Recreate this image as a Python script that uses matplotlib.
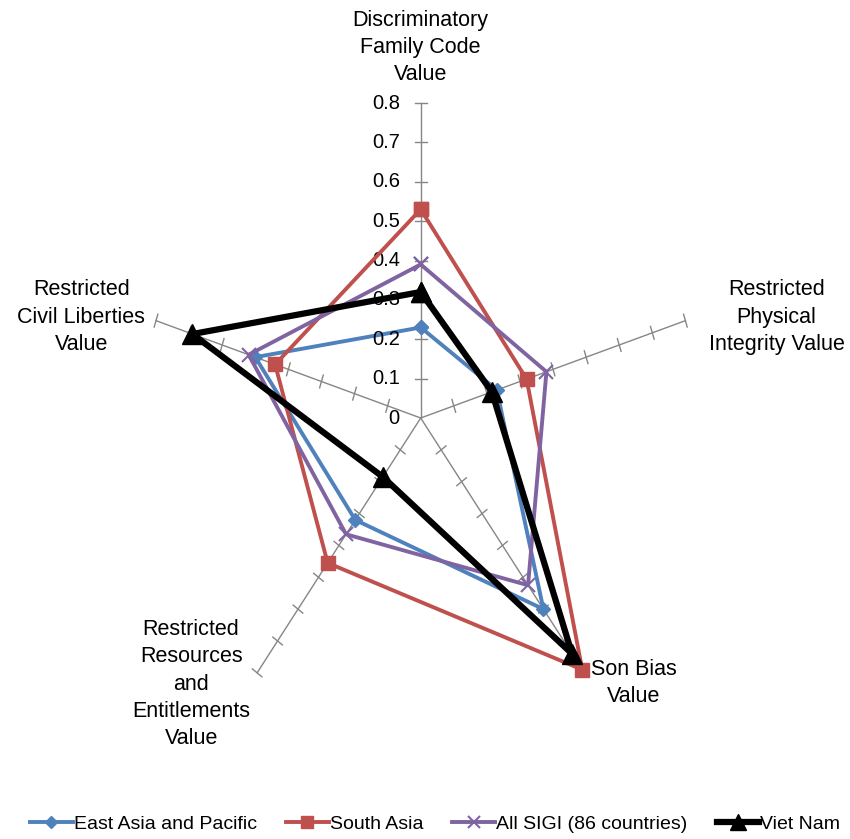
import numpy as np
import matplotlib
matplotlib.use("Agg")
import matplotlib.pyplot as plt

plt.rcParams['font.family'] = ['Liberation Sans', 'DejaVu Sans']

# axes of the radar, clockwise from the top
categories = [
    "Discriminatory\nFamily Code\nValue",
    "Restricted\nPhysical\nIntegrity Value",
    "Son Bias\nValue",
    "Restricted\nResources\nand\nEntitlements\nValue",
    "Restricted\nCivil Liberties\nValue",
]
east_asia = [0.23, 0.23, 0.60, 0.32, 0.50]
south_asia = [0.53, 0.32, 0.79, 0.455, 0.44]
all_sigi = [0.39, 0.38, 0.525, 0.365, 0.52]
viet_nam = [0.32, 0.215, 0.74, 0.185, 0.69]
tick_values = [0.1, 0.2, 0.3, 0.4, 0.5, 0.6, 0.7, 0.8]
tick_labels = ["0", "0.1", "0.2", "0.3", "0.4", "0.5", "0.6", "0.7", "0.8"]

series = [
    ("East Asia and Pacific", east_asia, "#4F81BD", "D", 7, 2.8),
    ("South Asia", south_asia, "#C0504D", "s", 10.5, 2.8),
    ("All SIGI (86 countries)", all_sigi, "#8064A2", "x", 10, 2.8),
    ("Viet Nam", viet_nam, "#000000", "^", 14, 4.5),
]

RMAX = 0.8
n = len(categories)
theta = np.arange(n) * 2 * np.pi / n


def to_xy(r, th):
    return r * np.sin(th), r * np.cos(th)


fig = plt.figure(figsize=(8.5, 8.39), dpi=100)
ax = fig.add_axes([0, 0, 1, 1])
# the picture is a bit narrower than it is tall, so the x unit is smaller
ax.set_xlim(-1.2093, 1.234)
ax.set_ylim(-1.0692, 1.0616)
ax.set_aspect('auto')
ax.axis('off')

# spokes with cross ticks
grey = "#868686"
h = 0.017
for th in theta:
    x, y = to_xy(RMAX, th)
    ax.plot([0, x], [0, y], color=grey, lw=1.0, zorder=1)
    px, py = np.cos(th), -np.sin(th)
    for t in tick_values:
        tx, ty = to_xy(t, th)
        ax.plot([tx - h * px, tx + h * px], [ty - h * py, ty + h * py],
                color=grey, lw=1.0, zorder=1)

# value labels along the top spoke
for i, lab in enumerate(tick_labels):
    ax.text(-0.06, i * 0.1, lab, ha='right', va='center', fontsize=14.5)

# category labels
label_pos = [(0.0, 0.942), (1.023, 0.2565), (0.613, -0.673),
             (-0.660, -0.6756), (-0.976, 0.2565)]
for lab, (lx, ly) in zip(categories, label_pos):
    ax.text(lx, ly, lab, ha='center', va='center', fontsize=15.5,
            linespacing=1.38)

for k, (name, vals, col, mk, ms, lw) in enumerate(series):
    r = np.array(vals + vals[:1])
    th = np.append(theta, theta[0])
    x, y = to_xy(r, th)
    kw = dict(markerfacecolor=col, markeredgecolor=col)
    if mk == "x":
        kw['markeredgewidth'] = 1.5
    ax.plot(x, y, color=col, lw=lw, marker=mk, markersize=ms,
            label=name, zorder=2 + k, **kw)

fig.legend(loc='lower center', bbox_to_anchor=(0.512, -0.007), ncol=4,
           frameon=False, fontsize=14, handlelength=2.2, handletextpad=0.05,
           columnspacing=1.5, borderaxespad=0.2, numpoints=1,
           markerscale=0.85)

fig.savefig("out.png", dpi=100)
